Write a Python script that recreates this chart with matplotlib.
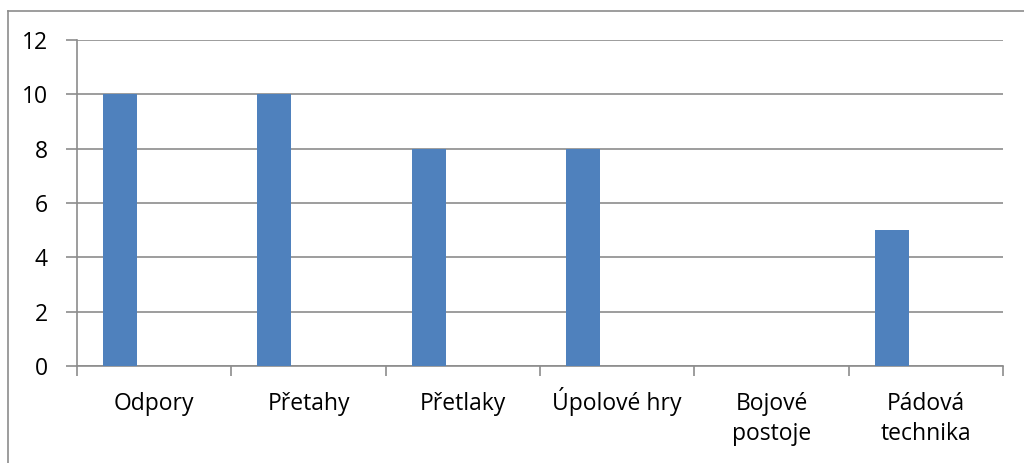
import matplotlib.pyplot as plt
import matplotlib.transforms as mtransforms
import numpy as np

# data
categories = ['Odpory', 'Přetahy', 'Přetlaky', 'Úpolové hry', 'Bojové\npostoje', 'Pádová\ntechnika']
values = [10, 10, 8, 8, 0, 5]
y_ticks = [0, 2, 4, 6, 8, 10, 12]

W, H = 1024, 463
fig = plt.figure(figsize=(W / 100, H / 100), dpi=100)
plt.rcParams['font.family'] = ['Open Sans', 'DejaVu Sans']

# chart frame (only left + top visible in the reference)
fig.add_artist(plt.Line2D([7.5 / W, 7.5 / W], [0, 1 - 10.5 / H], color='#8c8c8c', lw=1.2))
fig.add_artist(plt.Line2D([7.5 / W, 1], [1 - 10.5 / H, 1 - 10.5 / H], color='#8c8c8c', lw=1.2))

ax = fig.add_axes([77 / W, 1 - 366 / H, (1003 - 77) / W, (366 - 40) / H])

# excel style: 3 series slots, only first one filled -> bar sits left in slot
x = np.arange(len(categories))
bar_w = 34 / 154.3
ax.bar(x - bar_w, values, width=bar_w, color='#4F81BD', zorder=3)

ax.set_xlim(-0.5, len(categories) - 0.5)
ax.set_ylim(0, 12)
ax.set_yticks(y_ticks)
ax.set_yticklabels([str(t) for t in y_ticks], fontsize=16.5)
ax.yaxis.grid(True, color='#8c8c8c', lw=1.2, zorder=0)

# category labels: each line on its own baseline (like excel)
ax.set_xticks(x)
ax.set_xticklabels([])
base = ax.get_xaxis_transform()
for i, cat in enumerate(categories):
    for k, line in enumerate(cat.split('\n')):
        tr = base + mtransforms.ScaledTranslation(0, -(44 + 30 * k) / 100, fig.dpi_scale_trans)
        ax.text(i, 0, line, transform=tr, ha='center', va='baseline', fontsize=16.5)
ax.set_xticks(np.arange(len(categories) + 1) - 0.5, minor=True)
ax.tick_params(axis='x', which='major', length=0)
ax.tick_params(axis='x', which='minor', length=7, color='#8c8c8c', width=1.2)
ax.tick_params(axis='y', length=8, color='#8c8c8c', width=1.2, pad=13)

for s in ['top', 'right']:
    ax.spines[s].set_visible(False)
for s in ['left', 'bottom']:
    ax.spines[s].set_color('#8c8c8c')
    ax.spines[s].set_linewidth(1.2)

fig.savefig('out.png', dpi=100)
